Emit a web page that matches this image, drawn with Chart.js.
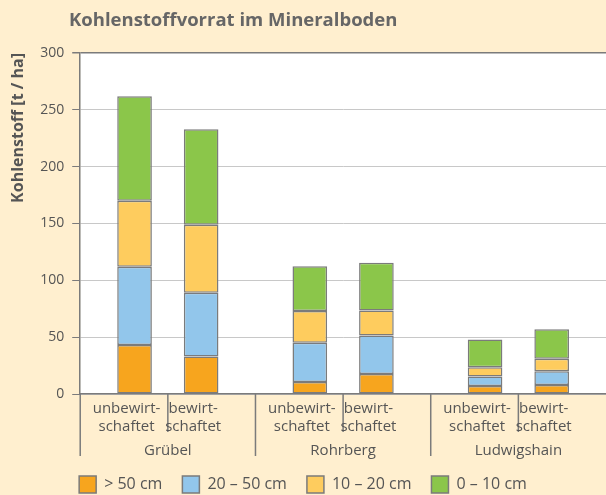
<!doctype html>
<html>
<head>
	<title>Kohlenstoffvorrat im Mineralboden</title>
	<script src="https://cdn.jsdelivr.net/npm/chart.js@4"></script>
	<style>
		html, body { margin: 0; padding: 0; background: #FFEFCF; }
		#holder { width: 606px; height: 495px; }
	</style>
</head>
<body>
	<div id="holder">
		<canvas id="chart-area" width="606" height="495"></canvas>
	</div>

	<script>
		var sites = ['Grübel', 'Rohrberg', 'Ludwigshain'];
		var managements = [['unbewirt-', 'schaftet'], ['bewirt-', 'schaftet']];
		var layers = ['> 50 cm', '20 – 50 cm', '10 – 20 cm', '0 – 10 cm'];
		var colors = ['#F7A51E', '#92C6EB', '#FECC5E', '#8BC64A'];

		// t/ha per layer, one value per site
		var unbewirtschaftet = [
			[43, 10.5, 7],
			[69, 34.5, 8.5],
			[58, 28, 8],
			[92, 39.5, 24.5]
		];
		var bewirtschaftet = [
			[33, 17.5, 8],
			[56, 34, 12],
			[60, 22, 11],
			[84, 42, 26]
		];

		var datasets = [];
		[unbewirtschaftet, bewirtschaftet].forEach(function(series, s) {
			series.forEach(function(values, i) {
				datasets.push({
					label: layers[i],
					data: values,
					stack: 's' + s,
					backgroundColor: colors[i],
					borderColor: '#7b7b7b',
					borderWidth: 1.5,
					borderSkipped: false,
					categoryPercentage: 0.76,
					barPercentage: 0.52
				});
			});
		});

		var font = "'Open Sans', sans-serif";
		var textColor = '#555';

		var frame = {
			id: 'frame',
			beforeDraw: function(chart) {
				var c = chart.ctx, a = chart.chartArea;
				c.save();
				c.fillStyle = '#FFEFCF';
				c.fillRect(0, 0, chart.width, chart.height);
				c.fillStyle = '#fff';
				c.fillRect(a.left, a.top, a.right - a.left, a.bottom - a.top);
				c.restore();
			},
			afterDraw: function(chart) {
				var c = chart.ctx, a = chart.chartArea, x = chart.scales.x;
				var half = (x.right - x.left) / sites.length / 2;
				c.save();
				c.fillStyle = '#666';
				c.font = "bold 18.5px " + font;
				c.textBaseline = 'middle';
				c.fillText('Kohlenstoffvorrat im Mineralboden', 69, 21);

				c.strokeStyle = '#7b7b7b';
				c.lineWidth = 1.5;
				c.font = "15px " + font;
				c.fillStyle = textColor;
				c.textAlign = 'center';
				sites.forEach(function(s, i) {
					var cx = x.getPixelForValue(i);
					c.beginPath();
					c.moveTo(cx - half, a.bottom);
					c.lineTo(cx - half, a.bottom + 62);
					c.moveTo(cx, a.bottom);
					c.lineTo(cx, a.bottom + 38);
					c.stroke();
					[0, 4].forEach(function(d, m) {
						var bx = chart.getDatasetMeta(d).data[i].x - 8;
						c.fillText(managements[m][0], bx, a.bottom + 15);
						c.fillText(managements[m][1], bx, a.bottom + 33);
					});
					c.fillText(s, cx, a.bottom + 57);
				});
				c.restore();
			}
		};

		var ctx = document.getElementById('chart-area').getContext('2d');
		window.myChart = new Chart(ctx, {
			type: 'bar',
			data: { labels: sites, datasets: datasets },
			plugins: [frame],
			options: {
				responsive: false,
				animation: false,
				layout: { padding: { top: 53, left: 0, right: 0, bottom: -8 } },
				plugins: {
					title: { display: false },
					tooltip: { enabled: false },
					legend: {
						position: 'bottom',
						labels: {
							boxWidth: 17,
							boxHeight: 17,
							padding: 20,
							color: textColor,
							font: { family: font, size: 16 },
							filter: function(item) { return item.datasetIndex < 4; }
						}
					}
				},
				scales: {
					x: {
						stacked: true,
						grid: { display: false, drawTicks: false },
						border: { color: '#7b7b7b', width: 1.5 },
						ticks: { color: 'rgba(0,0,0,0)', font: { family: font, size: 15 }, padding: 22 }
					},
					y: {
						stacked: true,
						min: 0,
						max: 300,
						ticks: { stepSize: 50, color: textColor, font: { family: font, size: 14 }, padding: 8 },
						grid: {
							color: function(c) { return c.tick && c.tick.value === 300 ? '#7b7b7b' : '#c8c8c8'; },
							lineWidth: function(c) { return c.tick && c.tick.value === 300 ? 1.5 : 1; },
							tickColor: '#7b7b7b',
							tickLength: 8
						},
						border: { color: '#7b7b7b', width: 1.5 },
						title: {
							display: true,
							text: 'Kohlenstoff [t / ha]',
							align: 'end',
							color: textColor,
							font: { family: font, size: 16, weight: 'bold' },
							padding: { top: 9, bottom: 4 }
						}
					}
				}
			}
		});
	</script>
</body>
</html>
